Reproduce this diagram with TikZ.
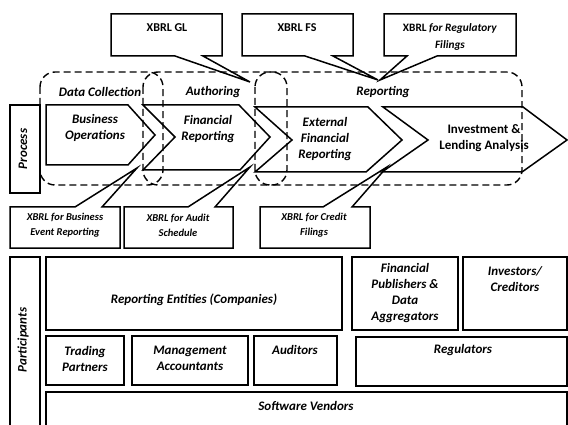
\documentclass[tikz,border=0pt]{standalone}
\usepackage{fontspec}
\setmainfont{Carlito}
\begin{document}
\begin{tikzpicture}[x=1pt,y=-1pt,
  shapeline/.style={draw=black, line width=1.5pt, line join=miter},
  dashbox/.style={draw=black, line width=1.4pt, dash pattern=on 7pt off 4pt, rounded corners=15pt},
  lbl/.style={font=\fontsize{13}{16}\selectfont\bfseries\itshape, align=center, inner sep=0pt},
  lblup/.style={font=\fontsize{13}{16}\selectfont\bfseries, align=center, inner sep=0pt},
  small/.style={font=\fontsize{10.5}{15}\selectfont\bfseries\itshape, align=center, inner sep=0pt}]
\useasboundingbox (0,0) rectangle (568,425);
\clip (0,0) rectangle (568,425);
\fill[white] (0,0) rectangle (568,425);

% top callouts
\draw[shapeline] (111,14) -- (222,14) -- (222,56) -- (203,56) -- (250,82) -- (175,56) -- (111,56) -- cycle;
\draw[shapeline] (242,14) -- (353,14) -- (353,56) -- (333,56) -- (378,80) -- (305,56) -- (242,56) -- cycle;
\draw[shapeline] (384,14) -- (516,14) -- (516,56) -- (437,56) -- (380,80) -- (407,56) -- (384,56) -- cycle;
\node[lblup, font=\fontsize{12}{16}\selectfont\bfseries] (gl) at (167,28) {XBRL GL};
\node[lblup, font=\fontsize{12}{16}\selectfont\bfseries] (fs) at (297,28) {XBRL FS};
\node[lblup, font=\fontsize{11.3}{17}\selectfont\bfseries] (reg) at (450,36.5) {XBRL \textit{for Regulatory}\\\textit{Filings}};

% dashed phases
\draw[dashbox] (40,72) rectangle (163,185);
\draw[dashbox] (143,72) rectangle (287,185);
\draw[dashbox] (255,72) rectangle (522,185);
\node[lbl] (dc) at (100,92) {Data Collection};
\node[lbl] (au) at (213,92) {Authoring};
\node[lbl] (rp) at (383,92) {Reporting};

% chevrons
\draw[shapeline] (46,105) -- (128,105) -- (155,135) -- (128,165) -- (46,165) -- cycle;
\draw[shapeline] (143,105) -- (239,105) -- (270,137) -- (240,170) -- (143,170) -- (175,137) -- cycle;
\draw[shapeline] (255,107) -- (368,107) -- (402,140) -- (366,172) -- (255,172) -- (292,140) -- cycle;
\draw[shapeline] (383,107) -- (523,107) -- (567,140) -- (522,172) -- (382,172) -- (428,140) -- cycle;
\node[lbl] (bo) at (95,127.5) {Business\\Operations};
\node[lbl] (fr) at (208,129) {Financial\\Reporting};
\node[lbl] (efr) at (325,139) {External\\Financial\\Reporting};
\node[lblup] (ila) at (484,138) {Investment \&\\Lending Analysis};

% process label
\draw[shapeline] (10,105) rectangle (40,193);
\node[lbl, rotate=90] (proc) at (23,149) {Process};

% bottom callouts
\draw[shapeline] (10,207) -- (75,207) -- (137,168) -- (102,207) -- (120,207) -- (120,248) -- (10,248) -- cycle;
\draw[shapeline] (124,207) -- (188,207) -- (250,167) -- (215,207) -- (233,207) -- (233,248) -- (124,248) -- cycle;
\draw[shapeline] (260,207) -- (323,207) -- (387,167) -- (352,207) -- (370,207) -- (370,248) -- (260,248) -- cycle;
\node[small] (ber) at (65,225.5) {XBRL for Business\\Event Reporting};
\node[small] (as) at (178,225.5) {XBRL for Audit\\Schedule};
\node[small] (cf) at (314,225.5) {XBRL for Credit\\Filings};

% participants
\draw[shapeline] (10,257) rectangle (40,440);
\node[lbl, rotate=90] (part) at (23,340) {Participants};
\draw[shapeline] (46,257) rectangle (342,330);
\draw[shapeline] (352,257) rectangle (458,330);
\draw[shapeline] (463,257) rectangle (567,330);
\draw[shapeline] (46,336) rectangle (124,385);
\draw[shapeline] (132,336) rectangle (248,385);
\draw[shapeline] (254,336) rectangle (337,385);
\draw[shapeline] (356,337) rectangle (567,386);
\draw[shapeline] (46,392) rectangle (567,440);
\node[lbl] (re) at (194,300) {Reporting Entities (Companies)};
\node[lbl] (fp) at (405,293.5) {Financial\\Publishers \&\\Data\\Aggregators};
\node[lbl] (ic) at (515,279) {Investors/\\Creditors};
\node[lbl] (tp) at (85,358.5) {Trading\\Partners};
\node[lbl] (ma) at (190,358) {Management\\Accountants};
\node[lbl] (ad) at (295,350) {Auditors};
\node[lbl] (rg) at (463,350) {Regulators};
\node[lbl] (sv) at (306,406) {Software Vendors};
\end{tikzpicture}
\end{document}
